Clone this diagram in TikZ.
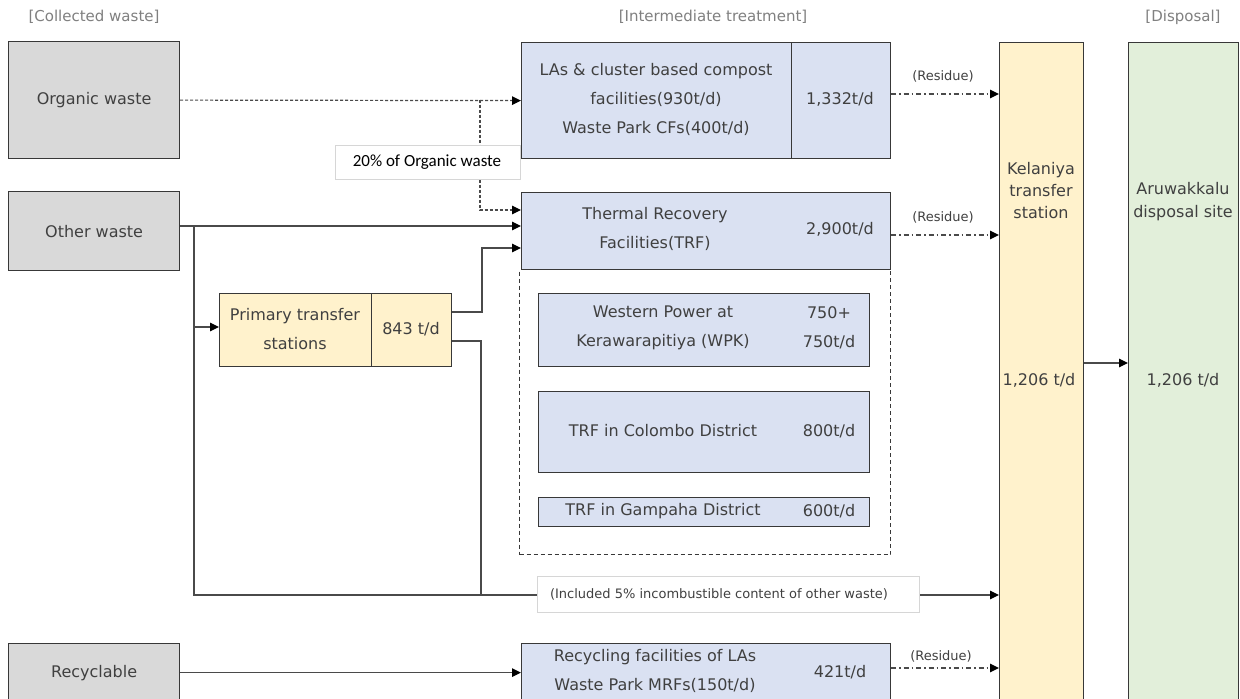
\documentclass[tikz,border=0pt]{standalone}
\usepackage{fontspec}
\setmainfont{DejaVu Sans}
\newfontfamily\lblfont{Carlito}
\usetikzlibrary{arrows.meta,calc}
\definecolor{bordc}{HTML}{383838}
\definecolor{linec}{HTML}{4A4A4A}
\definecolor{graycol}{HTML}{D9D9D9}
\definecolor{bluecol}{HTML}{DAE1F2}
\definecolor{yelcol}{HTML}{FFF2CC}
\definecolor{grncol}{HTML}{E2EFDA}
\definecolor{txtc}{HTML}{404040}
\definecolor{hdc}{HTML}{808080}
\definecolor{lblbord}{HTML}{D6D6D6}
\newcommand\fsmain{\fontsize{16}{29}\selectfont}
\newcommand\fsnarrow{\fontsize{16}{22}\selectfont}
\newcommand\fssmall{\fontsize{13}{16}\selectfont}
\tikzset{
  box/.style={draw=bordc, line width=1.2pt, inner sep=0pt, anchor=north west},
  gbox/.style={box, fill=graycol},
  bbox/.style={box, fill=bluecol},
  ybox/.style={box, fill=yelcol},
  grbox/.style={box, fill=grncol},
  cont/.style={draw=bordc, line width=1pt, dash pattern=on 4pt off 3pt, inner sep=0pt, anchor=north west},
  mtxt/.style={font=\fsmain, text=txtc, align=center, inner sep=0pt},
  ntxt/.style={font=\fsnarrow, text=txtc, align=center, inner sep=0pt},
  stxt/.style={font=\fssmall, text=txtc, align=center, inner sep=0pt},
  htxt/.style={font=\fontsize{15}{18}\selectfont, text=hdc, inner sep=0pt},
  lblbox/.style={draw=lblbord, line width=0.6pt, fill=white, inner sep=0pt},
  arr/.style={-{Triangle[length=9pt,width=8.5pt,fill=black,color=black]}},
  sline/.style={draw=linec, line width=1.1pt},
  dline/.style={draw=linec, line width=1.2pt, dash pattern=on 3pt off 2pt},
  rline/.style={draw=linec, line width=1.3pt, dash pattern=on 5pt off 3pt on 1.5pt off 3pt},
}
\begin{document}
\begin{tikzpicture}[x=1pt,y=-1pt]
\useasboundingbox (0,0) rectangle (1240,699);
\clip (0,0) rectangle (1240,699);
\fill[white] (0,0) rectangle (1240,699);

% headers
\node[htxt] (hd1) at (94,17) {[Collected waste]};
\node[htxt] (hd2) at (713,17) {[Intermediate treatment]};
\node[htxt] (hd3) at (1183,17) {[Disposal]};

% collected waste
\node[gbox, minimum width=171pt, minimum height=117pt] (org) at (8,41) {};
\node[mtxt] (orgt) at (org.center) {Organic waste};
\node[gbox, minimum width=171pt, minimum height=79pt] (oth) at (8,191) {};
\node[mtxt] (otht) at (oth.center) {Other waste};
\node[gbox, minimum width=171pt, minimum height=58pt] (rec) at (8,643) {};
\node[mtxt] (rect) at (rec.center) {Recyclable};

% primary transfer
\node[ybox, minimum width=152pt, minimum height=73pt] (primL) at (219,293) {};
\node[ybox, minimum width=80pt, minimum height=73pt] (primR) at (371,293) {};
\node[mtxt] (primLt) at (295,329) {Primary transfer\\stations};
\node[mtxt] (primRt) at (411,329) {843 t/d};

% intermediate treatment
\node[bbox, minimum width=270pt, minimum height=116pt] (compL) at (521,42) {};
\node[bbox, minimum width=99pt, minimum height=116pt] (compR) at (791,42) {};
\node[mtxt] (compLt) at (656,99) {LAs \& cluster based compost\\facilities(930t/d)\\Waste Park CFs(400t/d)};
\node[mtxt] (compRt) at (840,99) {1,332t/d};

\node[cont, minimum width=371pt, minimum height=285pt] (cnt) at (519,269) {};
\node[bbox, minimum width=369pt, minimum height=77pt] (trf) at (521,192) {};
\node[mtxt] (trft) at (655,228.5) {Thermal Recovery\\Facilities(TRF)};
\node[mtxt] (trfr) at (840,229) {2,900t/d};

\node[bbox, minimum width=331pt, minimum height=73pt] (wpk) at (538,293) {};
\node[mtxt] (wpkt) at (663,328) {Western Power at\\Kerawarapitiya (WPK)};
\node[mtxt] (wpkr) at (829,328) {750+\\750t/d};
\node[bbox, minimum width=331pt, minimum height=81pt] (col) at (538,391) {};
\node[mtxt] (colt) at (663,431) {TRF in Colombo District};
\node[mtxt] (colr) at (829,431) {800t/d};
\node[bbox, minimum width=331pt, minimum height=29pt] (gam) at (538,497) {};
\node[mtxt] (gamt) at (663,511) {TRF in Gampaha District};
\node[mtxt] (gamr) at (829,511) {600t/d};

\node[bbox, minimum width=369pt, minimum height=58pt] (rcy) at (521,643) {};
\node[mtxt] (rcyt) at (655,671) {Recycling facilities of LAs\\Waste Park MRFs(150t/d)};
\node[mtxt] (rcyr) at (840,672) {421t/d};

% transfer & disposal
\node[ybox, minimum width=84pt, minimum height=680pt] (kel) at (999,42) {};
\node[ntxt] (kelt) at (1041,191) {Kelaniya\\transfer\\station};
\node[mtxt] (kelr) at (1039,380) {1,206 t/d};
\node[grbox, minimum width=110pt, minimum height=680pt] (aru) at (1128,42) {};
\node[ntxt, font=\fontsize{16}{23}\selectfont] (arut) at (1183,201.5) {Aruwakkalu\\disposal site};
\node[mtxt] (arur) at (1183,380) {1,206 t/d};

% helper coordinates
\coordinate (ja) at (480,99.5);
\coordinate (y210) at (0,210);
\coordinate (y226) at (0,226);
\coordinate (y248) at (0,248);
\coordinate (jv) at (194,226);
\coordinate (y595) at (0,595);
\coordinate (y327) at (0,327);
\coordinate (pt1) at (482,312);
\coordinate (pb1) at (481,341);
\coordinate (pb2) at (481,595);
\coordinate (y94) at (0,94);
\coordinate (y235) at (0,235);
\coordinate (y668) at (0,668);
\coordinate (y363) at (0,363);

% connectors
\draw[dline,arr] (org.east) -- (compL.west);
\draw[dline,arr] (ja) |- (trf.west |- y210);
\draw[sline,arr] (oth.east |- y226) -- (trf.west |- y226);
\draw[sline,arr] (jv) |- (kel.west |- y595);
\draw[sline,arr] (jv |- y327) -- (primL.west |- y327);
\draw[sline,arr] (primR.east |- pt1) -- (pt1) |- (trf.west |- y248);
\draw[sline] (primR.east |- pb1) -- (pb1) -- (pb2);
\draw[rline,arr] (compR.east |- y94) -- (kel.west |- y94);
\draw[rline,arr] (trf.east |- y235) -- (kel.west |- y235);
\draw[rline,arr] (rcy.east |- y668) -- (kel.west |- y668);
\draw[sline,arr] (rec.east) -- (rcy.west);
\draw[sline,arr] (kel.east |- y363) -- (aru.west |- y363);

% labels
\node[lblbox, minimum width=185pt, minimum height=34pt] (l20) at (428,162) {};
\node[font=\lblfont\fontsize{17}{20}\selectfont, text=black, inner sep=0pt] (l20t) at (427,162) {20\% of Organic waste};
\node[lblbox, minimum width=382pt, minimum height=36pt] (linc) at (728,594) {};
\node[stxt] (linct) at (719,594) {(Included 5\% incombustible content of other waste)};
\node[stxt] (res1) at (943,76) {(Residue)};
\node[stxt] (res2) at (943,217) {(Residue)};
\node[stxt] (res3) at (941,656) {(Residue)};
\end{tikzpicture}
\end{document}
